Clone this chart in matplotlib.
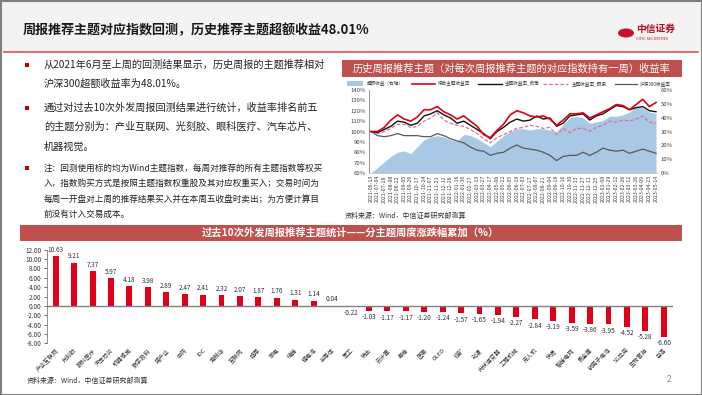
import matplotlib
matplotlib.use("Agg")
import matplotlib.pyplot as plt
from matplotlib.patches import Rectangle, Circle
from matplotlib.lines import Line2D

plt.rcParams['font.family'] = ['Noto Sans CJK SC', 'DejaVu Sans']
plt.rcParams['axes.unicode_minus'] = False

W, H = 702, 395

# --- right chart data (weekly backtest) ---
dates = ["2021-06-13", "2021-07-04", "2021-07-18", "2021-08-08", "2021-08-22", "2021-09-05",
         "2021-09-26", "2021-10-17", "2021-10-24", "2021-11-07", "2021-11-21", "2021-12-12",
         "2021-12-26", "2022-01-16", "2022-01-30", "2022-02-27", "2022-03-13", "2022-03-27",
         "2022-04-17", "2022-05-08", "2022-05-22", "2022-06-05", "2022-06-19", "2022-07-03",
         "2022-07-17", "2022-08-07", "2022-08-21", "2022-09-04", "2022-09-18", "2022-10-16",
         "2022-10-30", "2022-11-13", "2022-11-27", "2022-12-11", "2022-12-25", "2023-01-08",
         "2023-01-29", "2023-02-12", "2023-02-26", "2023-03-12", "2023-03-26", "2023-04-09",
         "2023-04-23", "2023-05-14"]
combined = [100, 100, 104, 111, 116, 112, 110, 114, 121, 121, 124, 119, 116, 112, 115, 110, 105, 97,
            94, 101, 107, 116, 120, 118, 115, 114, 115, 112, 106, 111, 117, 117, 118, 113, 116, 119,
            122, 126, 125, 121, 126, 131, 124, 128]
policy = [100, 99, 102, 105, 110, 109, 106, 108, 115, 117, 120, 116, 113, 108, 110, 106, 102, 98,
          93, 100, 104, 109, 112, 110, 111, 115, 112, 113, 105, 108, 115, 116, 117, 111, 115, 117,
          121, 125, 124, 121, 123, 124, 120, 119]
research = [100, 98, 100, 103, 107, 107, 104, 105, 110, 113, 118, 111, 108, 106, 105, 102, 98, 93,
            89, 94, 97, 100, 103, 104, 106, 105, 103, 104, 97, 103, 99, 103, 103, 100, 104, 106,
            110, 109, 111, 110, 112, 115, 109, 108]
hs300 = [100, 96, 95, 96, 98, 96, 96, 96, 95, 95, 98, 96, 93, 91, 89, 85, 82, 81, 77, 79, 80, 84,
         87, 84, 83, 82, 80, 77, 72, 76, 77, 77, 80, 77, 80, 84, 82, 81, 82, 79, 81, 83, 81, 79]
excess = [0, 4, 8, 12, 15, 16, 14, 19, 24, 26, 27, 26, 24, 23, 28, 27, 25, 22, 19, 23, 27, 30, 32,
          32, 31, 32, 32, 31, 30, 35, 40, 41, 40, 36, 37, 38, 41, 41, 42, 44, 48, 47, 44, 43]

# --- bottom chart data ---
themes = ["产业互联网", "光刻胶", "眼科医疗", "汽车芯片", "机器视觉", "数字政府", "猪产业", "中药",
          "IDC", "免税店", "互联网", "超导", "家电", "储能", "锂电池", "半导体", "军工", "稀土",
          "云计算", "券商", "医美", "OLED", "钨矿", "动漫", "光伏逆变器", "工程机械", "无人机",
          "快递", "智能电网", "贵金属", "钠离子电池", "5G应用", "生物育种", "白酒"]
theme_ret = [10.63, 9.21, 7.37, 5.97, 4.18, 3.98, 2.89, 2.47, 2.41, 2.32, 2.07, 1.87, 1.76, 1.31,
             1.14, 0.04, -0.22, -1.03, -1.17, -1.17, -1.20, -1.24, -1.57, -1.65, -1.94, -2.27,
             -2.84, -3.19, -3.59, -3.86, -3.95, -4.52, -5.28, -6.60]

RED_BAR = "#c0504d"
BRIGHT = "#e0001b"
C_AREA, C_RED, C_BLK, C_PINK, C_GREY = "#a9c8e6", "#e00012", "#111111", "#d9739a", "#595959"
DASH = (0, (3, 1.5))


def box(x0, y0, x1, y1):
    # pixel box (top-left origin) -> figure fraction rect
    return [x0 / W, 1 - y1 / H, (x1 - x0) / W, (y1 - y0) / H]


def ptxt(x, y, s, **kw):
    fig.text(x / W, 1 - y / H, s, **kw)


def pline(x0, x1, y, **kw):
    fig.add_artist(Line2D([x0 / W, x1 / W], [1 - y / H, 1 - y / H], transform=fig.transFigure, **kw))


def prect(x0, y0, w, h, **kw):
    fig.add_artist(Rectangle((x0 / W, 1 - (y0 + h) / H), w / W, h / H,
                             transform=fig.transFigure, **kw))


fig = plt.figure(figsize=(W / 100, H / 100), dpi=100)
fig.patch.set_facecolor("white")

# slide background pieces
prect(0, 0, W, 52, facecolor="#f3f3f3", edgecolor="none", zorder=0)
pline(4, 698, 52, color="#d9534f", lw=1.2)
fig.add_artist(Rectangle((0.5 / W, 0.5 / H), 1 - 1 / W, 1 - 1 / H, transform=fig.transFigure,
                         facecolor="none", edgecolor="#7f7f7f", lw=1.5))

# title
ptxt(23, 30, "周报推荐主题对应指数回测，历史推荐主题超额收益48.01%", fontsize=9.4,
     fontweight="bold", color="#1a1a1a", va="center")

# logo
fig.add_artist(Circle((626 / W, 1 - 33 / H), 8 / W, transform=fig.transFigure,
                      facecolor="#c8102e", edgecolor="none"))
ptxt(636, 29, "中信证券", fontsize=7, fontweight="bold", color="#b01020", va="center")
ptxt(636, 39, "CITIC SECURITIES", fontsize=2.8, color="#b01020", va="center")

# left text block
body = dict(fontsize=7.3, color="#222222", va="center")
note = dict(fontsize=6.2, color="#222222", va="center")
for y in (65, 108, 168):
    prect(25, y - 2, 4, 4, facecolor="#c00000", edgecolor="none")
ptxt(44, 65, "从2021年6月至上周的回测结果显示，历史周报的主题推荐相对", **body)
ptxt(44, 83, "沪深300超额收益率为48.01%。", **body)
ptxt(44, 108, "通过对过去10次外发周报回测结果进行统计，收益率排名前五", **body)
ptxt(44, 127, "的主题分别为：产业互联网、光刻胶、眼科医疗、汽车芯片、", **body)
ptxt(44, 147, "机器视觉。", **body)
ptxt(44, 168, "注：回测使用标的均为Wind主题指数，每周对推荐的所有主题指数等权买", **note)
ptxt(44, 183, "入，指数购买方式是按照主题指数权重股及其对应权重买入；交易时间为", **note)
ptxt(44, 199, "每周一开盘对上周的推荐结果买入并在本周五收盘时卖出；为方便计算目", **note)
ptxt(44, 214, "前没有计入交易成本。", **note)

# right chart title bar
prect(342, 60, 340, 17, facecolor=RED_BAR, edgecolor="none")
ptxt(512, 68.5, "历史周报推荐主题（对每次周报推荐主题的对应指数持有一周）收益率", fontsize=7.4,
     color="white", ha="center", va="center")

ax = fig.add_axes(box(369, 90, 658, 173))
ax2 = ax.twinx()
xs = list(range(len(dates)))
ax2.fill_between(xs, 0, excess, color=C_AREA, lw=0)
ax2.set_ylim(0, 60)
ax2.set_yticks(range(0, 61, 10))
ax2.set_yticklabels([f"{v}%" for v in range(0, 61, 10)])
ax.plot(xs, hs300, color=C_GREY, lw=0.9)
ax.plot(xs, research, color=C_PINK, lw=0.9, ls=DASH)
ax.plot(xs, policy, color=C_BLK, lw=1.0)
ax.plot(xs, combined, color=C_RED, lw=1.2)
ax.set_zorder(ax2.get_zorder() + 1)
ax.patch.set_visible(False)
ax.set_ylim(60, 140)
ax.set_yticks(range(60, 141, 10))
ax.set_yticklabels([f"{v}%" for v in range(60, 141, 10)])
ax.set_xlim(-0.3, len(dates) - 0.7)
ax.set_xticks(xs)
ax.set_xticklabels(dates, rotation=90)
for a in (ax, ax2):
    for sp in ("top", "right", "left", "bottom"):
        a.spines[sp].set_visible(False)
    a.tick_params(labelsize=4.3, colors="#404040", length=0, pad=2)
ax.spines["left"].set_visible(True)
ax.spines["left"].set_color("#808080")
ax.spines["left"].set_linewidth(0.6)
ax.spines["bottom"].set_visible(True)
ax.spines["bottom"].set_color("#bfbfbf")
ax.spines["bottom"].set_linewidth(0.5)
ax.tick_params(axis="x", labelsize=3.8, pad=1.5)

# legend row, laid out by hand
leg = dict(fontsize=3.3, color="#333333", va="center")
ly = 83.5
prect(347, ly - 2.5, 16, 5, facecolor=C_AREA, edgecolor="none")
ptxt(367, ly, "超额收益（右轴）", **leg)
pline(412, 435, ly, color=C_RED, lw=1.2)
ptxt(438, ly, "综合主题收益率", **leg)
pline(478, 502, ly, color=C_BLK, lw=1.0)
ptxt(505, ly, "主题收益率_政策", **leg)
pline(543, 568, ly, color=C_PINK, lw=0.9, ls=DASH)
ptxt(572, ly, "主题收益率_研报", **leg)
pline(615, 637, ly, color=C_GREY, lw=0.9)
ptxt(640, ly, "沪深300收益率", **leg)

ptxt(345, 216, "资料来源：Wind，中信证券研究部测算", fontsize=5, color="#333333", va="center")

# bottom title bar
prect(20, 225, 662, 16, facecolor=RED_BAR, edgecolor="none")
ptxt(350, 233, "过去10次外发周报推荐主题统计——分主题周度涨跌幅累加（%）", fontsize=7.4,
     fontweight="bold", color="white", ha="center", va="center")

bx = fig.add_axes(box(46.5, 249.7, 673, 343.4))
pos = list(range(len(themes)))
bx.bar(pos, theme_ret, width=0.32, color=BRIGHT, zorder=2)
for p, v in zip(pos, theme_ret):
    off = 0.5 if v >= 0 else -0.5
    bx.text(p, v + off, f"{v:.2f}", ha="center", va="bottom" if v >= 0 else "top",
            fontsize=4.6, color="#333333")
bx.axhline(0, color="#808080", lw=1.0, zorder=3)
bx.set_ylim(-8, 12)
bx.set_xlim(-0.5, len(themes) - 0.5)
bx.set_yticks(range(-8, 13, 2))
bx.set_yticklabels([f"{v:.2f}" for v in range(-8, 13, 2)])
bx.set_xticks(pos)
bx.set_xticklabels(themes, rotation=45, ha="right", rotation_mode="anchor")
for sp in ("top", "right", "bottom"):
    bx.spines[sp].set_visible(False)
bx.spines["left"].set_color("#808080")
bx.spines["left"].set_linewidth(0.6)
bx.tick_params(axis="y", labelsize=4.6, colors="#333333", length=2, width=0.5, pad=1.5)
bx.tick_params(axis="x", labelsize=4.2, colors="#333333", length=0, pad=3)
bx.patch.set_visible(False)

ptxt(27, 381, "资料来源：Wind，中信证券研究部测算", fontsize=5, color="#333333", va="center")
ptxt(667, 379, "2", fontsize=6, color="#808080", va="center")

fig.savefig("out.png", dpi=100)
